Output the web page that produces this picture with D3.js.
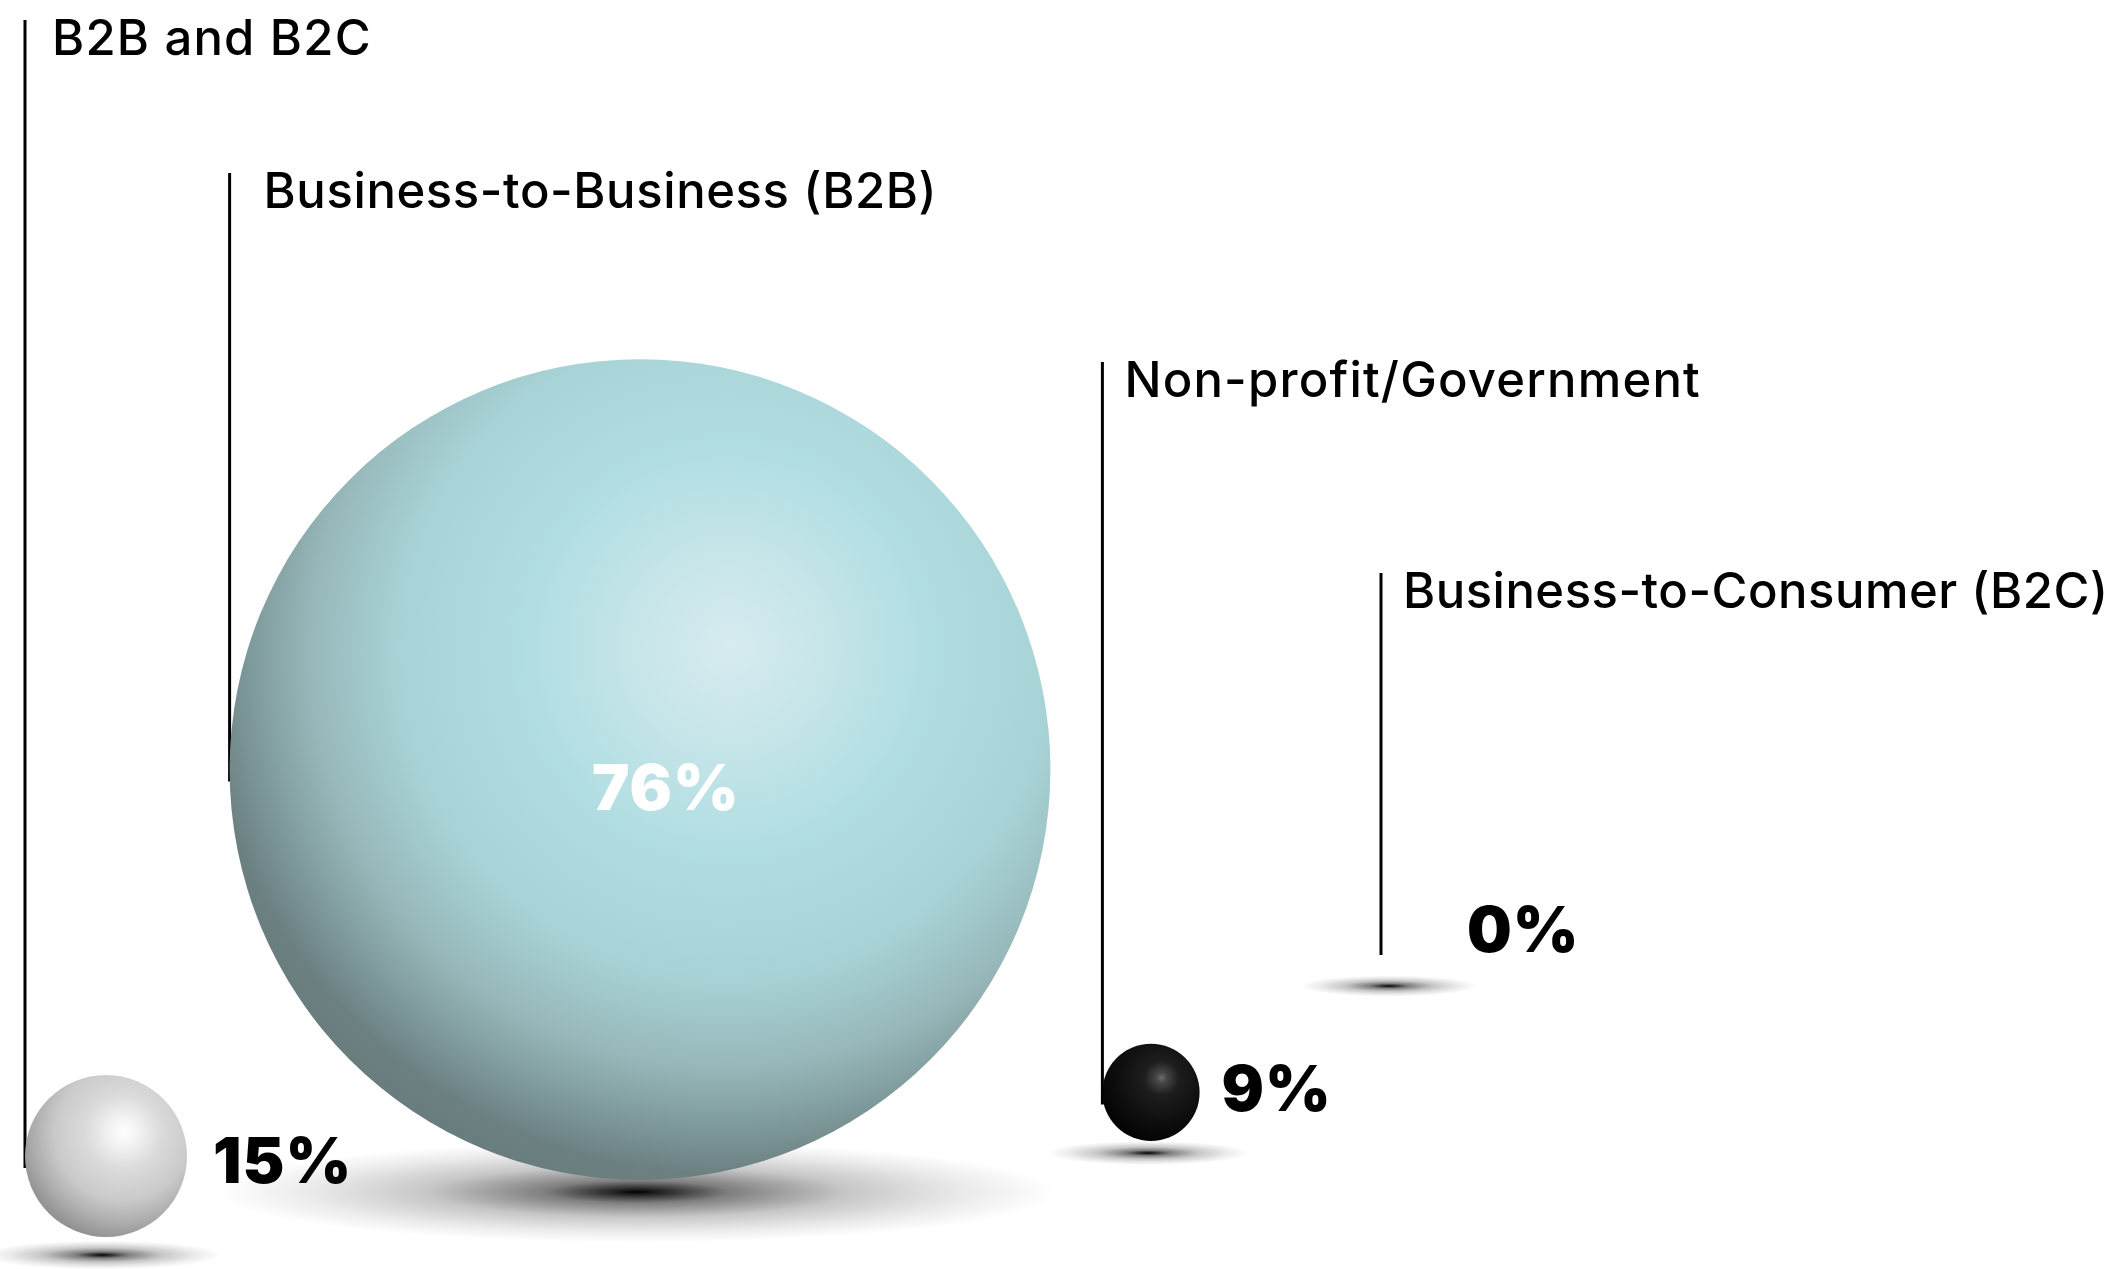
<!DOCTYPE html>
<html>
<head>
<meta charset="utf-8">
<script src="https://cdn.jsdelivr.net/npm/d3@7"></script>
<style>
  html, body { margin: 0; padding: 0; background: #ffffff; }
  svg { display: block; }
</style>
</head>
<body>
<svg id="chart" width="2115" height="1269"></svg>
<script>
// Share of respondents by business model
const categories = ["B2B and B2C", "Business-to-Business (B2B)", "Non-profit/Government", "Business-to-Consumer (B2C)"];
const shares = [15, 76, 9, 0];
const finishes = ["pearl", "teal", "onyx", "onyx"];

const W = 2115, H = 1269;
const svg = d3.select("#chart");

// Sphere radius grows linearly with the share
const rScale = d3.scaleLinear().domain([0, 100]).range([0, 540]);
// Staggered layout slots
const xSlot = d3.scaleOrdinal().domain(categories).range([106, 640, 1151, 1381]);
const floorY = d3.scaleOrdinal().domain(categories).range([1255, 1192, 1153, 986]);
const titleTop = d3.scaleOrdinal().domain(categories).range([20, 173, 362, 573]);
const titleGap = d3.scaleOrdinal().domain(categories).range([27, 34, 22, 22]);
const titleSpacing = d3.scaleOrdinal().domain(categories).range([1.2, 0.6, 1.2, 0.5]);
const labelDx = d3.scaleOrdinal().domain(categories).range([26, -48, 22, 86]);
const labelDy = d3.scaleOrdinal().domain(categories).range([27, 40, 19, -22]);
const shadowDx = d3.scaleOrdinal().domain(categories).range([-4, -3, -3, 8]);

const rows = categories.map((c, i) => {
  const r = rScale(shares[i]);
  const cx = xSlot(c);
  const floor = floorY(c);
  const cy = floor - (i === 0 ? 18 : 12) - r;
  const rx = Math.sqrt(88 * 88 + r * r);
  return { c, v: shares[i], r, cx, cy, floor, rx, ry: rx * 0.12, finish: finishes[i] };
});

const defs = svg.append("defs");

function sphereGradient(id, stops) {
  const g = defs.append("radialGradient").attr("id", id)
    .attr("cx", 0.6).attr("cy", 0.36).attr("r", 0.72)
    .attr("fx", 0.61).attr("fy", 0.35);
  stops.forEach(([o, col]) => g.append("stop").attr("offset", o).attr("stop-color", col));
}
sphereGradient("teal", [
  [0, "#d7ebf0"], [0.14, "#c8e6ea"], [0.34, "#b1dee2"], [0.55, "#a8d3d6"],
  [0.7, "#97b8ba"], [0.8, "#7f9a9c"], [0.88, "#6c8082"], [1, "#65777a"]
]);
sphereGradient("pearl", [
  [0, "#ffffff"], [0.12, "#f3f3f3"], [0.33, "#dadada"], [0.58, "#cacaca"],
  [0.78, "#ababab"], [0.9, "#959595"], [1, "#8a8a8a"]
]);
sphereGradient("onyx", [
  [0, "#6c6c6c"], [0.08, "#454545"], [0.25, "#1d1d1d"], [0.6, "#0f0f0f"], [1, "#000000"]
]);

const sh = defs.append("radialGradient").attr("id", "shadow");
[[0, 1], [0.06, 0.85], [0.22, 0.5], [0.5, 0.22], [0.78, 0.08], [1, 0]].forEach(([o, a]) =>
  sh.append("stop").attr("offset", o).attr("stop-color", "#000").attr("stop-opacity", a));

svg.append("rect").attr("width", W).attr("height", H).attr("fill", "#ffffff");

// Ground shadows
svg.append("g").selectAll("ellipse").data(rows).join("ellipse")
  .attr("cx", d => d.cx + shadowDx(d.c))
  .attr("cy", d => d.floor)
  .attr("rx", d => d.rx)
  .attr("ry", d => d.ry)
  .attr("fill", "url(#shadow)");

// Leader lines from each title down to its sphere
svg.append("g").selectAll("line").data(rows).join("line")
  .attr("x1", d => d.cx - d.r).attr("x2", d => d.cx - d.r)
  .attr("y1", d => titleTop(d.c))
  .attr("y2", d => d.r > 0 ? d.cy + 12 : d.cy - 19)
  .attr("stroke", "#000").attr("stroke-width", 3);

// Spheres
svg.append("g").selectAll("circle").data(rows.filter(d => d.r > 0)).join("circle")
  .attr("cx", d => d.cx).attr("cy", d => d.cy).attr("r", d => d.r)
  .attr("fill", d => `url(#${d.finish})`);

// Category titles
svg.append("g").selectAll("text").data(rows).join("text")
  .attr("x", d => d.cx - d.r + titleGap(d.c))
  .attr("y", d => titleTop(d.c) + 35)
  .attr("font-family", "Inter, 'Noto Sans', sans-serif")
  .attr("font-weight", 500)
  .attr("font-size", 49)
  .attr("letter-spacing", d => titleSpacing(d.c))
  .attr("fill", "#000")
  .text(d => d.c);

// Share labels
svg.append("g").selectAll("text").data(rows).join("text")
  .attr("x", d => d.r > 100 ? d.cx + labelDx(d.c) : d.cx + d.r + labelDx(d.c))
  .attr("y", d => d.cy + labelDy(d.c))
  .attr("font-family", "Inter, 'Noto Sans', sans-serif")
  .attr("font-weight", 900)
  .attr("font-size", 63)
  .attr("letter-spacing", 1)
  .attr("fill", d => d.r > 100 ? "#ffffff" : "#000")
  .text(d => d.v + "%");
</script>
</body>
</html>
